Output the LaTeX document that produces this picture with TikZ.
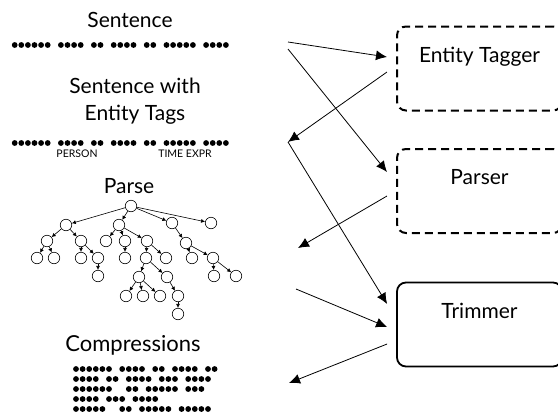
\documentclass[tikz,border=0pt]{standalone}
\usepackage{fontspec}
\setmainfont{Lato}
\usepackage{tikz}
\usetikzlibrary{arrows.meta}
\tikzstyle{title} = [font=\fontsize{21}{27}\selectfont,inner sep=0,anchor=base]
\tikzstyle{tag} = [font=\fontsize{10.5}{12}\selectfont,inner sep=0,anchor=base]
\tikzstyle{stage} = [draw,rounded corners=9pt,minimum width=165pt,minimum height=84pt,
  font=\fontsize{21}{25}\selectfont,text height=15.5pt,text depth=28.5pt]
\tikzstyle{leaf} = [circle,draw,line width=0.6pt,minimum size=11.5pt,inner sep=0]
\tikzstyle{branch} = [draw,line width=0.6pt,-{Latex[length=4pt,width=4pt]}]
\tikzstyle{flow} = [draw,line width=0.8pt,-{Latex[length=11pt,width=10pt]}]

% a row of word dots: start x, y, group sizes (0 = extra space)
\newcommand{\dotrow}[3]{%
  \xdef\dotx{#1}%
  \foreach \g in {#3}{%
    \ifnum\g>0
      \foreach \k in {1,...,\g}{%
        \fill (\dotx,#2) circle (2.9pt);
        \pgfmathsetmacro\nextx{\dotx+6.6}\xdef\dotx{\nextx}%
      }%
    \fi
    \pgfmathsetmacro\nextx{\dotx+6.6}\xdef\dotx{\nextx}%
  }%
}

\begin{document}
\begin{tikzpicture}[x=1pt,y=-1pt]
    \useasboundingbox (0,0) rectangle (558,416);
    \clip (0,0) rectangle (558,416);

    % left column
    \node[title] (sent) at (130,27) {Sentence};
    \dotrow{14.7}{45}{6,4,2,4,2,5,4}
    \node[title,align=center] (sentTags) at (135,120) {Sentence with\\Entity Tags};
    \dotrow{14.7}{143}{6,4,2,4,2,5,4}
    \node[tag] (person) at (77,157) {PERSON};
    \node[tag] (timex) at (185,157) {TIME EXPR};
    \node[title] (parse) at (129,193) {Parse};
    \node[title,font=\fontsize{22}{27}\selectfont] (comps) at (133,351) {Compressions};
    \dotrow{76}{369}{6,4,2,4,2}
    \dotrow{76}{379}{4,2,4,3,4}
    \dotrow{76}{389}{6,0,2,5,3}
    \dotrow{76}{399}{4,3,4}
    \dotrow{76}{409}{5,0,2,5,5}

    % parse tree
    \node[leaf] (t) at (131,206) {};
    \node[leaf] (a) at (66,225) {};
    \node[leaf] (b) at (119,225) {};
    \node[leaf] (c) at (172,223) {};
    \node[leaf] (d) at (211,223) {};
    \node[leaf] (a1) at (47,241) {};
    \node[leaf] (a2) at (81,241) {};
    \node[leaf] (b1) at (106,241) {};
    \node[leaf] (b2) at (125,241) {};
    \node[leaf] (b3) at (147,241) {};
    \node[leaf] (c1) at (186,243) {};
    \node[leaf] (a11) at (37,258) {};
    \node[leaf] (a12) at (54,258) {};
    \node[leaf] (a21) at (81,258) {};
    \node[leaf] (a22) at (98,258) {};
    \node[leaf] (b21) at (125,258) {};
    \node[leaf] (b31) at (146,258) {};
    \node[leaf] (b32) at (166,258) {};
    \node[leaf] (c11) at (192,258) {};
    \node[leaf] (c12) at (213,258) {};
    \node[leaf] (a221) at (98,276) {};
    \node[leaf] (b311) at (139,277) {};
    \node[leaf] (b312) at (167,277) {};
    \node[leaf] (c121) at (214,276) {};
    \node[leaf] (c122) at (236,276) {};
    \node[leaf] (b3111) at (126,296) {};
    \node[leaf] (b3112) at (143,296) {};
    \node[leaf] (b3113) at (160,296) {};
    \node[leaf] (b3121) at (178,296) {};
    \node[leaf] (b31211) at (178,314) {};

    \draw[branch] (t) -- (a);
    \draw[branch] (t) -- (b);
    \draw[branch] (t) -- (c);
    \draw[branch] (t) -- (d);
    \draw[branch] (a) -- (a1);
    \draw[branch] (a) -- (a2);
    \draw[branch] (a1) -- (a11);
    \draw[branch] (a1) -- (a12);
    \draw[branch] (a2) -- (a21);
    \draw[branch] (a2) -- (a22);
    \draw[branch] (a22) -- (a221);
    \draw[branch] (b) -- (b1);
    \draw[branch] (b) -- (b2);
    \draw[branch] (b) -- (b3);
    \draw[branch] (b2) -- (b21);
    \draw[branch] (b3) -- (b31);
    \draw[branch] (b3) -- (b32);
    \draw[branch] (b31) -- (b311);
    \draw[branch] (b31) -- (b312);
    \draw[branch] (b311) -- (b3111);
    \draw[branch] (b311) -- (b3112);
    \draw[branch] (b311) -- (b3113);
    \draw[branch] (b312) -- (b3121);
    \draw[branch] (b3121) -- (b31211);
    \draw[branch] (c) -- (c1);
    \draw[branch] (c1) -- (c11);
    \draw[branch] (c1) -- (c12);
    \draw[branch] (c12) -- (c121);
    \draw[branch] (c12) -- (c122);

    % stages
    \node[stage,line width=2pt,dash pattern=on 8pt off 5pt] (tagger) at (479.5,68.5) {Entity Tagger};
    \node[stage,line width=2pt,dash pattern=on 8pt off 5pt] (parser) at (479.5,191) {Parser};
    \node[stage,line width=1.8pt] (trimmer) at (479.5,324.5) {Trimmer};

    \coordinate (sentA) at (288,42);
    \coordinate (sentB) at (288,49);
    \coordinate (tagged) at (288,142);
    \coordinate (parsed) at (298,248);
    \coordinate (parseIn) at (296,289);
    \coordinate (comp) at (289,383);
    \coordinate (taggerIn) at ([xshift=-9pt,yshift=11.5pt]tagger.west);
    \coordinate (taggerOut) at ([xshift=-9pt,yshift=-3.5pt]tagger.west);
    \coordinate (parserIn) at ([xshift=-9pt,yshift=19pt]parser.west);
    \coordinate (parserOut) at ([xshift=-9pt,yshift=-5pt]parser.west);
    \coordinate (trimIn) at ([xshift=-9pt,yshift=20.5pt]trimmer.west);
    \coordinate (trimInB) at ([xshift=-9pt,yshift=-2.5pt]trimmer.west);
    \coordinate (trimOut) at ([xshift=-9pt,yshift=-19.5pt]trimmer.west);

    \draw[flow] (sentA) -- (taggerIn);
    \draw[flow] (sentB) -- (parserIn);
    \draw[flow] (taggerOut) -- (tagged);
    \draw[flow] (tagged) -- (trimIn);
    \draw[flow] (parserOut) -- (parsed);
    \draw[flow] (parseIn) -- (trimInB);
    \draw[flow] (trimOut) -- (comp);

\end{tikzpicture}
\end{document}
